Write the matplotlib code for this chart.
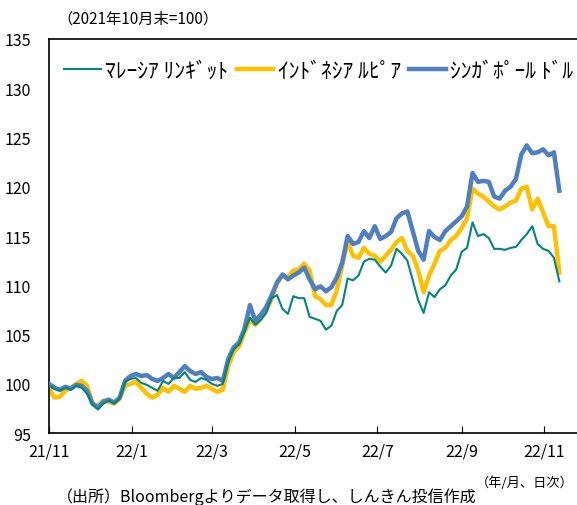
import pandas as pd
import numpy as np
import matplotlib
matplotlib.use('Agg')
import matplotlib.pyplot as plt

plt.rcParams['font.family'] = ['Noto Sans CJK JP', 'DejaVu Sans']

# observations every 4 days from 2021-11-01 (index, end of Oct 2021 = 100)
dates = pd.date_range('2021-11-01', periods=95, freq='4D')

myr = [99.8, 99.5, 99.3, 99.6, 99.4, 99.8, 99.6, 99.0, 97.9, 97.4,
       98.0, 98.3, 98.0, 98.5, 100.2, 100.5, 100.6, 100.1, 99.9, 99.6,
       99.3, 100.3, 100.0, 100.6, 100.6, 101.2, 100.4, 100.2, 100.6, 100.4,
       100.0, 99.8, 100.0, 102.2, 103.5, 104.0, 105.3, 106.7, 106.0, 106.5,
       107.2, 108.7, 109.0, 107.6, 107.1, 108.9, 108.7, 108.7, 106.8, 106.6,
       106.4, 105.5, 105.9, 107.4, 108.0, 110.7, 110.5, 111.0, 112.4, 112.7,
       112.6, 111.9, 111.3, 112.0, 113.7, 113.2, 112.5, 110.5, 108.5, 107.2,
       109.3, 108.8, 109.6, 110.0, 111.0, 111.6, 113.4, 113.8, 116.4, 115.0,
       115.2, 114.8, 113.7, 113.7, 113.6, 113.8, 113.9, 114.6, 115.2, 116.0,
       114.2, 113.7, 113.5, 112.8, 110.4]

idr = [99.5, 98.6, 98.7, 99.3, 99.6, 100.0, 100.3, 99.8, 98.0, 97.8,
       98.3, 98.2, 98.0, 98.5, 99.8, 100.0, 100.2, 99.6, 99.0, 98.6,
       98.9, 99.6, 99.2, 99.8, 99.5, 99.2, 99.8, 99.5, 99.6, 99.8,
       99.5, 99.2, 99.4, 101.8, 103.2, 103.8, 105.2, 106.5, 106.0, 106.6,
       107.5, 108.6, 110.2, 111.0, 110.8, 111.5, 111.6, 112.2, 111.5, 108.9,
       108.6, 108.0, 108.0, 109.5, 112.0, 114.4, 113.0, 112.8, 113.8, 113.2,
       113.0, 112.4, 113.0, 113.6, 114.4, 114.8, 113.5, 113.0, 111.5, 109.3,
       111.0, 112.2, 113.5, 113.8, 114.6, 115.0, 115.8, 116.8, 119.8, 119.3,
       119.0, 118.5, 118.0, 117.7, 118.0, 118.4, 118.6, 119.8, 120.0, 117.7,
       118.8, 117.4, 116.0, 116.0, 111.3]

sgd = [100.0, 99.6, 99.4, 99.7, 99.5, 99.9, 99.8, 99.3, 98.0, 97.6,
       98.2, 98.4, 98.1, 98.6, 100.3, 100.8, 101.0, 100.8, 100.9, 100.5,
       100.3, 100.6, 101.0, 100.6, 101.2, 101.8, 101.3, 101.0, 101.2, 100.7,
       100.5, 100.6, 100.3, 102.5, 103.7, 104.2, 105.6, 108.0, 106.4, 107.0,
       107.8, 109.0, 110.3, 111.1, 110.6, 111.0, 111.3, 111.8, 110.6, 109.6,
       109.9, 109.4, 109.8, 110.8, 112.3, 115.0, 114.2, 114.4, 115.5, 114.8,
       116.0, 114.7, 115.0, 115.4, 116.8, 117.3, 117.5, 115.5, 113.5, 112.6,
       115.5, 114.9, 114.6, 115.5, 116.0, 116.5, 117.0, 118.0, 121.4, 120.5,
       120.6, 120.5, 119.0, 118.8, 119.6, 120.0, 120.8, 123.3, 124.2, 123.4,
       123.5, 123.8, 123.2, 123.5, 119.6]

labels = ['ﾏﾚｰｼｱ ﾘﾝｷﾞｯﾄ', 'ｲﾝﾄﾞﾈｼｱ ﾙﾋﾟｱ', 'ｼﾝｶﾞﾎﾟｰﾙ ﾄﾞﾙ']
colors = ['#00857F', '#FFC000', '#4F7FC0']
tick_dates = pd.date_range('2021-11-01', '2022-11-01', freq='2MS')
tick_labels = ['21/11', '22/1', '22/3', '22/5', '22/7', '22/9', '22/11']

fig = plt.figure(figsize=(5.77, 5.06), dpi=100)
ax = fig.add_axes([0.085, 0.142, 0.915, 0.779])

ax.plot(dates, myr, color=colors[0], lw=1.5, label=labels[0], zorder=4)
ax.plot(dates, idr, color=colors[1], lw=3.2, label=labels[1], zorder=2)
ax.plot(dates, sgd, color=colors[2], lw=3.2, label=labels[2], zorder=3)

ax.set_ylim(95, 135)
ax.set_yticks(range(95, 136, 5))
ax.set_xlim(pd.Timestamp('2021-11-01'), pd.Timestamp('2022-11-25'))
ax.set_xticks(tick_dates)
ax.set_xticklabels(tick_labels)
ax.tick_params(axis='x', direction='in', length=5, labelsize=11.5, pad=7)
ax.tick_params(axis='y', length=0, labelsize=11.5, pad=13)
for s in ['left', 'bottom', 'top']:
    ax.spines[s].set_linewidth(1.2)
ax.spines['right'].set_visible(False)

ax.legend(loc='upper left', ncol=3, frameon=False, fontsize=15.5,
          handlelength=1.7, handletextpad=0.2, columnspacing=0.4,
          bbox_to_anchor=(0.0, 0.985), borderaxespad=0.3)

fig.text(0.1, 0.963, '（2021年10月末=100）', fontsize=11, va='center')
fig.text(0.825, 0.045, '（年/月、日次）', fontsize=9.5, va='center')
fig.text(0.098, 0.018, '（出所）Bloombergよりデータ取得し、しんきん投信作成', fontsize=11.5, va='center')

fig.savefig('out.png', dpi=100)
